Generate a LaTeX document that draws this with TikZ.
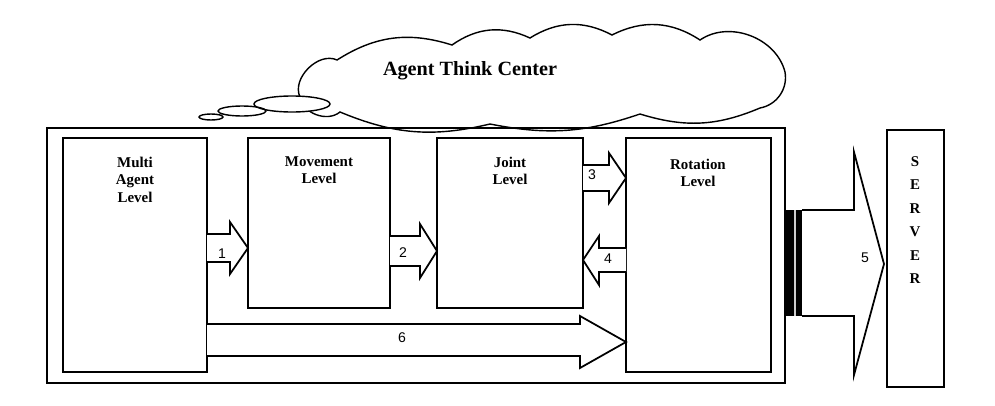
\documentclass[tikz,border=0pt]{standalone}
\usepackage{fontspec}
\setmainfont{Liberation Serif}
\newfontfamily\numfont{Liberation Sans}
\begin{document}
\begin{tikzpicture}[x=0.02cm,y=-0.02cm,line width=0.9pt,
  box/.style={draw,line width=1.1pt},
  lbl/.style={font=\bfseries\fontsize{8.5}{10}\selectfont,align=center,anchor=north},
  num/.style={font=\numfont\fontsize{8}{9}\selectfont},
  fat/.style={draw,line width=1pt,fill=white,line join=miter}]
\useasboundingbox (0,0) rectangle (995,406);
% cloud
\draw[line width=0.8pt] (300,97) to[bend left=70] (337,60) to[bend left=25] (452,45)
  to[bend left=30] (530,38) to[bend left=30] (612,35) to[bend left=30] (700,40)
  to[bend left=55] (785,72) to[bend left=45] (760,108) to[bend left=20] (640,114)
  to[bend left=15] (490,124) to[bend left=18] (340,112) to[bend left=60] (300,97);
\node[font=\bfseries\fontsize{11.5}{13}\selectfont] (ct) at (470,71) {Agent Think Center};
\draw[line width=0.8pt,fill=white] (292,104) ellipse (38 and 8);
\draw[line width=0.8pt] (242,111) ellipse (24 and 5) (211,117) ellipse (12 and 3);
% outer
\draw[box] (47,128) rectangle (785,383);
\draw[box] (63,138) rectangle (207,372);
\draw[box] (248,138) rectangle (390,308);
\draw[box] (437,138) rectangle (583,308);
\draw[box] (626,138) rectangle (771,372);
\draw[box] (887,130) rectangle (944,387);
\node[lbl] (t1) at (135,150) {Multi\\Agent\\Level};
\node[lbl] (t2) at (319,150) {Movement\\Level};
\node[lbl] (t3) at (510,150) {Joint\\Level};
\node[lbl] (t4) at (698,152) {Rotation\\Level};
\node[lbl,font=\bfseries\fontsize{8.5}{13.3}\selectfont] (t5) at (915,150) {S\\E\\R\\V\\E\\R};
% arrow 1
\draw[fat] (207,234) -- (230,234) -- (230,222) -- (248,248) -- (230,274) -- (230,262) -- (207,262);
\node[num] (n1) at (222,254) {1};
% arrow 2
\draw[fat] (390,236) -- (420,236) -- (420,224) -- (437,251) -- (420,278) -- (420,266) -- (390,266);
\node[num] (n2) at (403,253) {2};
% arrow 3
\draw[fat] (583,165) -- (609,165) -- (609,153) -- (626,178) -- (609,203) -- (609,191) -- (583,191);
\node[num] (n3) at (592,175) {3};
% arrow 4
\draw[fat] (626,248) -- (599,248) -- (599,236) -- (583,260) -- (599,285) -- (599,272) -- (626,272);
\node[num] (n4) at (608,259) {4};
% arrow 6
\draw[fat] (207,324) -- (580,324) -- (580,316) -- (626,342) -- (580,368) -- (580,356) -- (207,356);
\node[num] (n6) at (402,338) {6};
% arrow 5
\fill (786,210) rectangle (793,316);
\fill[gray!40] (793,210) rectangle (797,316);
\draw[line width=0.9pt] (793,210) -- (793,316) (797,210) -- (797,316);
\fill (797,210) rectangle (802,316);
\draw[fat] (802,210) -- (854,210) -- (854,152) -- (884,264) -- (854,375) -- (854,316) -- (802,316);
\node[num] (n5) at (865,258) {5};
\end{tikzpicture}
\end{document}
